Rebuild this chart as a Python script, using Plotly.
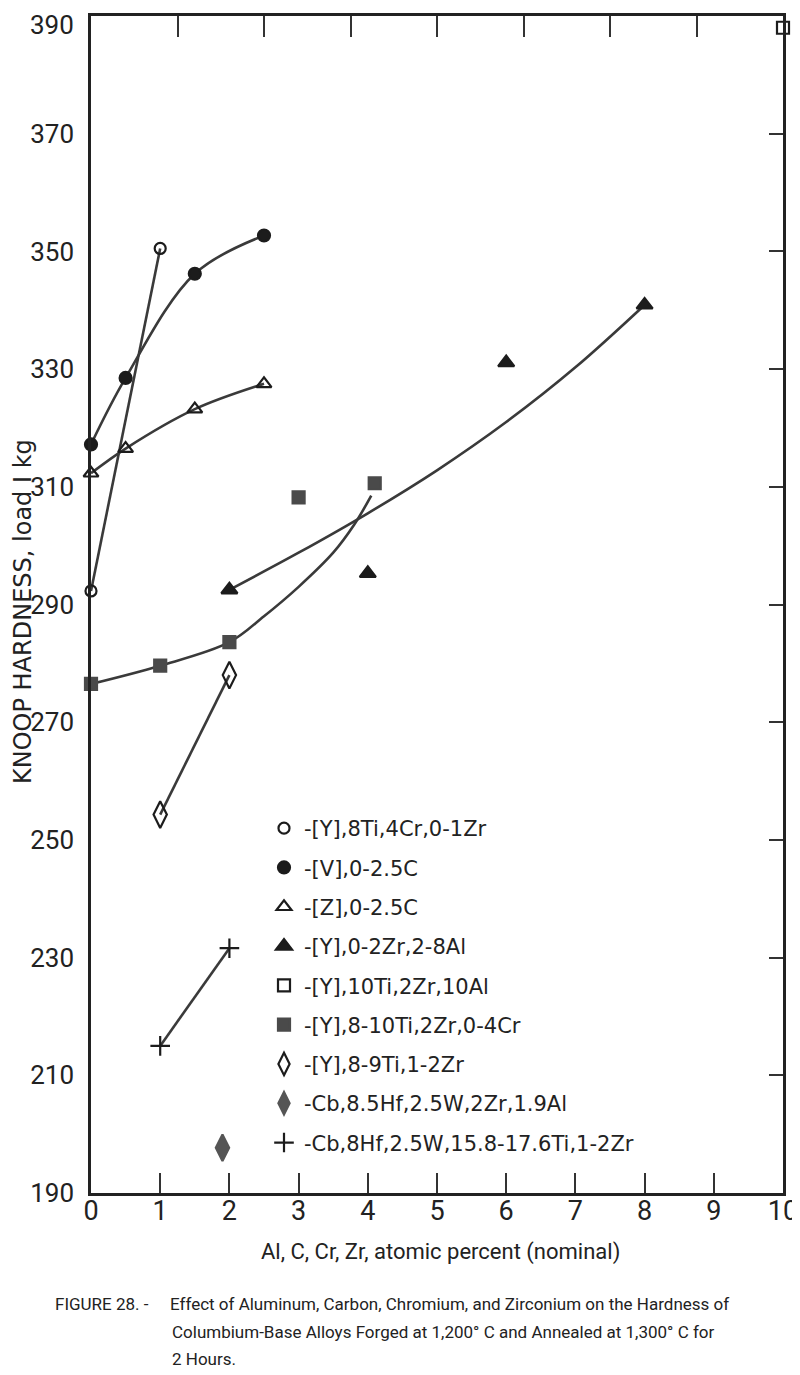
import plotly.graph_objects as go

# --- data (x = atomic percent, y = Knoop hardness) ---
# [Y],8Ti,4Cr,0-1Zr  (open circles)
ycr_x = [0, 1]
ycr_y = [292.3, 350.5]
# [V],0-2.5C  (filled circles)
vc_x = [0, 0.5, 1.5, 2.5]
vc_y = [317.2, 328.5, 346.2, 352.7]
# [Z],0-2.5C  (open triangles)
zc_x = [0, 0.5, 1.5, 2.5]
zc_y = [312.3, 316.5, 323.2, 327.5]
# [Y],0-2Zr,2-8Al  (filled triangles) + drawn curve
yal_x = [2, 4, 6, 8]
yal_y = [292.5, 295.3, 331.1, 340.9]
yal_fit_x = [2, 3, 4, 5, 6, 7, 8]
yal_fit_y = [292.5, 298.8, 305.5, 312.8, 321.0, 330.3, 340.9]
# [Y],10Ti,2Zr,10Al  (open square)
y10_x = [10]
y10_y = [388]
# [Y],8-10Ti,2Zr,0-4Cr  (filled squares) + drawn curve
ysq_x = [0, 1, 2, 3, 4.1]
ysq_y = [276.5, 279.6, 283.6, 308.2, 310.6]
ysq_fit_x = [0, 1, 2, 2.5, 3, 3.5, 3.8, 4.05]
ysq_fit_y = [276.5, 279.6, 283.6, 288, 293, 298.8, 303.5, 308.5]
# [Y],8-9Ti,1-2Zr  (open diamonds)
yzr_x = [1, 2]
yzr_y = [254.3, 278]
# Cb,8.5Hf,2.5W,2Zr,1.9Al  (filled diamond)
cb1_x = [1.9]
cb1_y = [197.7]
# Cb,8Hf,2.5W,15.8-17.6Ti,1-2Zr  (crosses)
cb2_x = [1, 2]
cb2_y = [215, 231.6]

labels = [
    "-[Y],8Ti,4Cr,0-1Zr",
    "-[V],0-2.5C",
    "-[Z],0-2.5C",
    "-[Y],0-2Zr,2-8Al",
    "-[Y],10Ti,2Zr,10Al",
    "-[Y],8-10Ti,2Zr,0-4Cr",
    "-[Y],8-9Ti,1-2Zr",
    "-Cb,8.5Hf,2.5W,2Zr,1.9Al",
    "-Cb,8Hf,2.5W,15.8-17.6Ti,1-2Zr",
]

x_ticks = list(range(0, 11))
y_ticks = list(range(190, 391, 20))
top_ticks = [1.25, 2.5, 3.75, 5, 6.25, 7.5, 8.75]

NARROW = "Roboto, Liberation Sans, sans-serif"
WIDE = "DejaVu Sans, Liberation Sans, sans-serif"
LINE = "#3a3a3a"
INK = "#1c1c1c"

# the page body keeps its default 8px margin, so the figure is 8px smaller
OFF = 8
W, H = 800 - OFF, 1375 - OFF
L, R, T, B = 91 - OFF, 17, 16 - OFF, 182
PW, PH = W - L - R, H - T - B


def px(xp):
    # page pixel -> paper fraction
    return (xp - OFF - L) / PW


def py(yp):
    return 1 - (yp - OFF - T) / PH


fig = go.Figure()

# connecting lines / curves
curves = [
    (ycr_x, ycr_y, "linear"),
    (vc_x, vc_y, "spline"),
    (zc_x, zc_y, "spline"),
    (yal_fit_x, yal_fit_y, "spline"),
    (ysq_fit_x, ysq_fit_y, "spline"),
    (yzr_x, yzr_y, "linear"),
    (cb2_x, cb2_y, "linear"),
]
for cx, cy, shape in curves:
    fig.add_trace(go.Scatter(
        x=cx, y=cy, mode="lines", showlegend=False, hoverinfo="skip",
        line=dict(color=LINE, width=2.6, shape=shape, smoothing=1.0),
    ))

# markers (these also make the legend)
markers = [
    (ycr_x, ycr_y, "circle-open", 11, INK),
    (vc_x, vc_y, "circle", 12, INK),
    (zc_x, zc_y, "triangle-up-open", 13, INK),
    (yal_x, yal_y, "triangle-up", 14, INK),
    (y10_x, y10_y, "square-open", 12, INK),
    (ysq_x, ysq_y, "square", 12, "#4a4a4a"),
    (yzr_x, yzr_y, "diamond-tall-open", 19, INK),
    (cb1_x, cb1_y, "diamond-tall", 19, "#555555"),
    (cb2_x, cb2_y, "cross-thin-open", 14, INK),
]
for i, (mx, my, sym, size, col) in enumerate(markers):
    fig.add_trace(go.Scatter(
        x=mx, y=my, mode="markers", name=labels[i], legendgroup=str(i),
        cliponaxis=False,
        marker=dict(symbol=sym, size=size, color=col,
                    line=dict(color=col, width=2.2)),
    ))

# helper trace so the mirrored top/right axes are drawn
fig.add_trace(go.Scatter(x=[None], y=[None], xaxis="x2", yaxis="y2",
                         showlegend=False, hoverinfo="skip"))

axis_line = dict(showline=True, linecolor="#222222", linewidth=2.5,
                 showgrid=False, zeroline=False, automargin=False)

fig.update_layout(
    width=W, height=H,
    margin=dict(l=L, r=R, t=T, b=B, autoexpand=False),
    paper_bgcolor="white", plot_bgcolor="white",
    font=dict(family=NARROW, color="#222222"),
    xaxis=dict(range=[0, 10], tickvals=x_ticks, ticks="inside", ticklen=20,
               tickwidth=2, tickcolor="#333333", ticklabelstandoff=-8,
               ticklabeloverflow="allow",
               tickfont=dict(size=27, family=NARROW), **axis_line),
    # top label (390) is placed as text below so it is not clipped by the page
    yaxis=dict(range=[190, 390], tickvals=y_ticks[:-1], ticks="",
               ticklabelstandoff=9, ticklabeloverflow="allow",
               tickfont=dict(size=26, family=NARROW), **axis_line),
    xaxis2=dict(range=[0, 10], overlaying="x", side="top", anchor="y",
                tickvals=top_ticks, ticks="inside", ticklen=21, tickwidth=2,
                tickcolor="#333333", showticklabels=False, **axis_line),
    yaxis2=dict(range=[190, 390], overlaying="y", side="right", anchor="x",
                tickvals=y_ticks[1:-1], ticks="inside", ticklen=14,
                tickwidth=2, tickcolor="#333333", showticklabels=False,
                **axis_line),
    legend=dict(x=px(264), y=py(808), xanchor="left", yanchor="top",
                font=dict(size=21, family=WIDE, color="#222222"),
                tracegroupgap=9, bgcolor="rgba(0,0,0,0)", itemclick=False),
    showlegend=True,
)

annotations = [
    dict(text=str(y_ticks[-1]), x=px(76), y=py(8), xanchor="right",
         yanchor="top", font=dict(size=26, family=NARROW)),
    dict(text="KNOOP HARDNESS, load I kg", x=px(23), y=py(612),
         textangle=-90, font=dict(size=24, family=WIDE)),
    dict(text="Al, C, Cr, Zr, atomic percent (nominal)", x=px(440),
         y=py(1252), font=dict(size=22, family=NARROW)),
    dict(text="FIGURE 28. -", x=px(53), y=py(1304), xanchor="left",
         font=dict(size=17, family=NARROW)),
    dict(text="Effect of Aluminum, Carbon, Chromium, and Zirconium on the Hardness of",
         x=px(168), y=py(1304), xanchor="left", font=dict(size=17, family=NARROW)),
    dict(text="Columbium-Base Alloys Forged at 1,200\u00b0 C and Annealed at 1,300\u00b0 C for",
         x=px(170), y=py(1332), xanchor="left", font=dict(size=17, family=NARROW)),
    dict(text="2 Hours.", x=px(170), y=py(1359), xanchor="left",
         font=dict(size=17, family=NARROW)),
]
for a in annotations:
    a.update(xref="paper", yref="paper", showarrow=False)
    a.setdefault("xanchor", "center")
    a.setdefault("yanchor", "middle")
fig.update_layout(annotations=annotations)

fig.write_html("out.html")
